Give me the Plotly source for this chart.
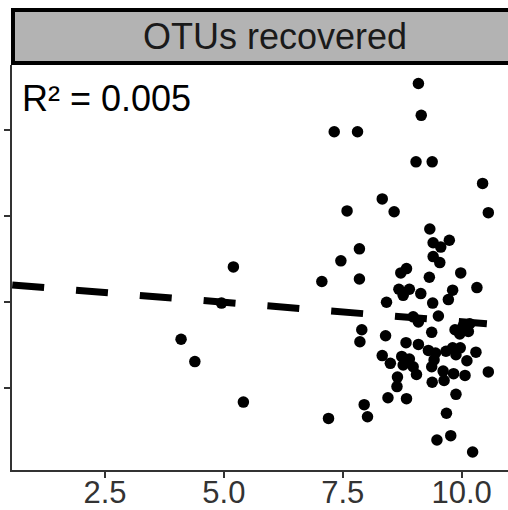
import plotly.graph_objects as go

# ---- data ----
ratio_x = [9.09, 9.15, 7.32, 7.81, 9.04, 9.38, 10.44, 8.33, 7.59, 8.58,
           10.56, 9.33, 9.74, 9.40, 9.56, 7.85, 9.40, 9.54, 7.46, 8.84,
           8.72, 9.98, 9.32, 7.85, 7.06, 5.20, 4.95, 4.10, 4.39, 5.41,
           10.32, 8.68, 8.90, 8.77, 9.14, 9.81, 9.72, 8.42, 9.39, 8.98,
           9.09, 9.51, 10.17, 10.03, 9.86, 9.96, 10.14, 9.37, 7.90, 7.86,
           8.40, 8.83, 9.09, 8.33, 9.30, 9.45, 9.67, 9.81, 9.97, 10.30,
           9.88, 8.50, 8.74, 8.90, 8.77, 8.98, 9.05, 9.37, 9.42, 10.11,
           9.61, 9.83, 10.07, 10.56, 8.65, 8.64, 9.38, 9.63, 8.45, 8.84,
           9.88, 7.95, 8.02, 7.20, 9.68, 9.77, 9.48, 10.23]
otus = [454, 417, 398, 398, 363, 363, 338, 320, 306, 305,
        304, 285, 272, 269, 264, 262, 253, 246, 248, 239,
        234, 234, 229, 227, 224, 241, 199, 157, 131, 84,
        217, 215, 215, 208, 210, 214, 203, 200, 199, 183,
        177, 184, 175, 172, 168, 163, 166, 165, 168, 154,
        161, 153, 151, 138, 144, 141, 143, 147, 147, 142,
        139, 129, 137, 134, 127, 125, 116, 125, 133, 132,
        120, 117, 115, 119, 113, 102, 107, 109, 89, 88,
        93, 81, 67, 65, 71, 45, 40, 26]

fit_x = [0.55, 10.53]
fit_y = [220, 175]

x_ticks = [2.5, 5.0, 7.5, 10.0]
x_tick_labels = ["2.5", "5.0", "7.5", "10.0"]
y_ticks = [100, 200, 300, 400]
y_tick_labels = ["100", "200", "300", "400"]

panel_title = "OTUs recovered"
r2_text = "R² = 0.005"

FONT = "Liberation Sans, Arial, sans-serif"
AX = "#333333"

fig = go.Figure()
fig.add_trace(go.Scatter(
    x=fit_x, y=fit_y, mode="lines",
    line=dict(color="black", width=7, dash="32px,32px"),
    hoverinfo="skip", showlegend=False))
fig.add_trace(go.Scatter(
    x=ratio_x, y=otus, mode="markers",
    marker=dict(color="black", size=11.5, line=dict(width=0)),
    showlegend=False))

# facet strip
fig.add_shape(type="rect", xref="paper", yref="paper",
              x0=0.002, x1=1.2, y0=1.0049, y1=1.1358,
              fillcolor="#b3b3b3", line=dict(color="black", width=4),
              layer="above")
fig.add_annotation(xref="paper", yref="paper", x=0.530, y=1.070,
                   text=panel_title, showarrow=False,
                   xanchor="center", yanchor="middle",
                   font=dict(family=FONT, size=36, color="#1a1a1a"))
fig.add_annotation(xref="paper", yref="paper", x=0.016, y=0.918,
                   text=r2_text, showarrow=False,
                   xanchor="left", yanchor="middle",
                   font=dict(family=FONT, size=36, color="black"))

fig.update_layout(
    width=508, height=510,
    margin=dict(l=12, r=0, t=65, b=40, pad=0),
    paper_bgcolor="white", plot_bgcolor="white",
    template="none",
    showlegend=False,
    xaxis=dict(range=[0.545, 10.974], tickvals=x_ticks, ticktext=x_tick_labels,
               showgrid=False, zeroline=False, showline=True,
               linecolor=AX, linewidth=2, ticks="outside", ticklen=6,
               tickwidth=2, tickcolor=AX, automargin=False,
               ticklabelstandoff=-12,
               tickfont=dict(family=FONT, size=31, color=AX)),
    yaxis=dict(range=[5.1, 475.5], tickvals=y_ticks, ticktext=y_tick_labels,
               showgrid=False, zeroline=False, showline=True,
               linecolor=AX, linewidth=2, ticks="outside", ticklen=6,
               tickwidth=2, tickcolor=AX, automargin=False,
               tickfont=dict(family=FONT, size=30, color=AX)),
)

fig.write_html("out.html")
